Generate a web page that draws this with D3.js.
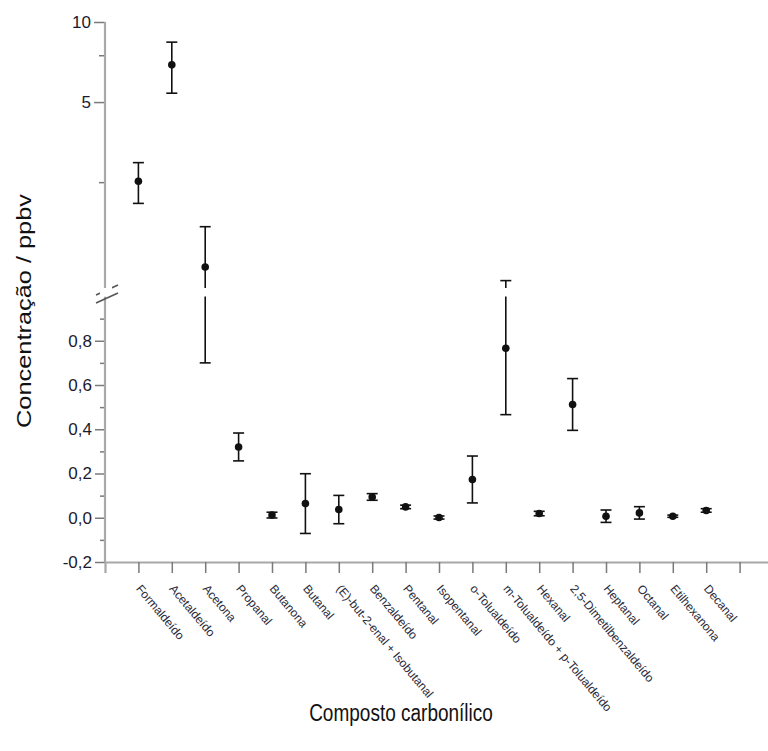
<!DOCTYPE html>
<html><head><meta charset="utf-8">
<script src="https://cdn.jsdelivr.net/npm/d3@7"></script>
<style>body{margin:0;background:#fff}svg{display:block}text{font-family:"Liberation Sans",Arial,sans-serif}</style>
</head><body>
<svg id="c" width="768" height="751"></svg>
<script>
const categories = ["Formaldeído","Acetaldeído","Acetona","Propanal","Butanona","Butanal","(E)-but-2-enal + Isobutanal","Benzaldeído","Pentanal","Isopentanal","o-Tolualdeído","m-Tolualdeído + p-Tolualdeído","Hexanal","2,5-Dimetilbenzaldeído","Heptanal","Octanal","Etilhexanona","Decanal"];
const means  = [2.52, 6.9, 1.2, 0.32, 0.012, 0.064, 0.037, 0.094, 0.049, 0.001, 0.173, 0.766, 0.019, 0.512, 0.007, 0.022, 0.007, 0.033];
const errors = [0.44, 1.5, 0.5, 0.063, 0.013, 0.135, 0.064, 0.015, 0.008, 0.007, 0.106, 0.30, 0.010, 0.117, 0.028, 0.028, 0.005, 0.008];
const lowerMajorTicks = [-0.2, 0, 0.2, 0.4, 0.6, 0.8];
const lowerMinorTicks = [-0.1, 0.1, 0.3, 0.5, 0.7, 0.9];
const upperMajorTicks = [5, 10];
const upperMinorTicks = [2.5, 7.5];
const xTitle = "Composto carbonílico";
const yTitle = "Concentração / ppbv";

const svg = d3.select("#c");
const x = d3.scaleLinear().domain([0, 20]).range([105, 773]);
const yLow = d3.scaleLinear().domain([-0.2, 1.0]).range([562, 296.5]);
const yUp = d3.scaleLog().domain([1, 10]).range([288, 22]);
const axisColor = "#a8a8a8", tickColor = "#7a7a7a";
const fmt = v => d3.format(".1f")(v).replace(".", ",").replace("−", "-");

// lower y axis
const gLow = svg.append("g").attr("transform", "translate(105,0)");
gLow.call(d3.axisLeft(yLow).tickValues(lowerMajorTicks).tickSize(10).tickPadding(3).tickFormat(fmt));
gLow.append("g").call(d3.axisLeft(yLow).tickValues(lowerMinorTicks).tickSize(5).tickFormat(""));
// upper y axis
const gUp = svg.append("g").attr("transform", "translate(105,0)");
gUp.call(d3.axisLeft(yUp).tickValues(upperMajorTicks).tickSize(11).tickPadding(3).tickFormat(d3.format("d")));
gUp.append("g").call(d3.axisLeft(yUp).tickValues(upperMinorTicks).tickSize(6).tickFormat(""));
[gLow, gUp].forEach(g => {
  g.selectAll(".domain").remove();
  g.selectAll("line").attr("stroke", tickColor).attr("stroke-width", 1.5);
  g.selectAll("text").attr("font-size", 17).attr("fill", "#1a1a2e");
});
// y axis lines
svg.append("line").attr("x1", 105).attr("x2", 105).attr("y1", yUp(10)).attr("y2", 288)
  .attr("stroke", axisColor).attr("stroke-width", 2.2);
svg.append("line").attr("x1", 105).attr("x2", 105).attr("y1", 296.5).attr("y2", yLow(-0.2))
  .attr("stroke", axisColor).attr("stroke-width", 2.2);
// break marks
[[96, 295, 118, 285], [96, 303, 118, 293]].forEach(d => {
  svg.append("line").attr("x1", d[0]).attr("y1", d[1]).attr("x2", d[2]).attr("y2", d[3])
    .attr("stroke", "#555").attr("stroke-width", 1.6);
});
svg.append("polygon").attr("points", "100,290 112,286 112,294 100,298").attr("fill", "#fff");

// x axis
const gx = svg.append("g").attr("transform", `translate(0,${yLow(-0.2)})`);
gx.call(d3.axisBottom(x).tickValues(d3.range(1, 20)).tickSize(11).tickFormat(""));
gx.select(".domain").attr("stroke", axisColor).attr("stroke-width", 2.2);
gx.selectAll(".tick line").attr("stroke", tickColor).attr("stroke-width", 1.5);

// category labels
svg.append("g").selectAll("text").data(categories).join("text")
  .attr("transform", (d, i) => `translate(${x(i + 1) - 3},${yLow(-0.2) + 27}) rotate(50)`)
  .attr("font-size", 12).attr("fill", "#2a2a3a").attr("text-anchor", "start")
  .text(d => d);

// error bars
const cap = 5.5;
const segs = [];
means.forEach((m, i) => {
  const lo = m - errors[i], hi = m + errors[i];
  const cx = x(i + 1);
  if (lo < 1) segs.push({cx, y1: yLow(lo), y2: yLow(Math.min(hi, 1.0))});
  if (hi > 1) segs.push({cx, y1: yUp(Math.max(lo, 1)), y2: yUp(hi)});
});
const yv = v => v <= 1 ? yLow(v) : yUp(v);
const bars = svg.append("g").attr("stroke", "#111").attr("stroke-width", 1.6);
bars.selectAll("line.v").data(segs).join("line").attr("class", "v")
  .attr("x1", d => d.cx).attr("x2", d => d.cx).attr("y1", d => d.y1).attr("y2", d => d.y2);
bars.selectAll("line.top").data(means).join("line").attr("class", "top")
  .attr("x1", (d, i) => x(i + 1) - cap).attr("x2", (d, i) => x(i + 1) + cap)
  .attr("y1", (d, i) => yv(d + errors[i])).attr("y2", (d, i) => yv(d + errors[i]));
bars.selectAll("line.bot").data(means).join("line").attr("class", "bot")
  .attr("x1", (d, i) => x(i + 1) - cap).attr("x2", (d, i) => x(i + 1) + cap)
  .attr("y1", (d, i) => yv(d - errors[i])).attr("y2", (d, i) => yv(d - errors[i]));
svg.append("g").selectAll("circle").data(means).join("circle")
  .attr("cx", (d, i) => x(i + 1)).attr("cy", d => yv(d)).attr("r", 3.8).attr("fill", "#111");

// titles
svg.append("text").attr("transform", "translate(401,721) scale(1,1.25)").attr("text-anchor", "middle")
  .attr("font-size", 19).attr("fill", "#111").text(xTitle);
svg.append("text").attr("transform", "translate(31,311) scale(1,1.3) rotate(-90)")
  .attr("text-anchor", "middle").attr("font-size", 19.5).attr("fill", "#111").text(yTitle);
</script>
</body></html>
